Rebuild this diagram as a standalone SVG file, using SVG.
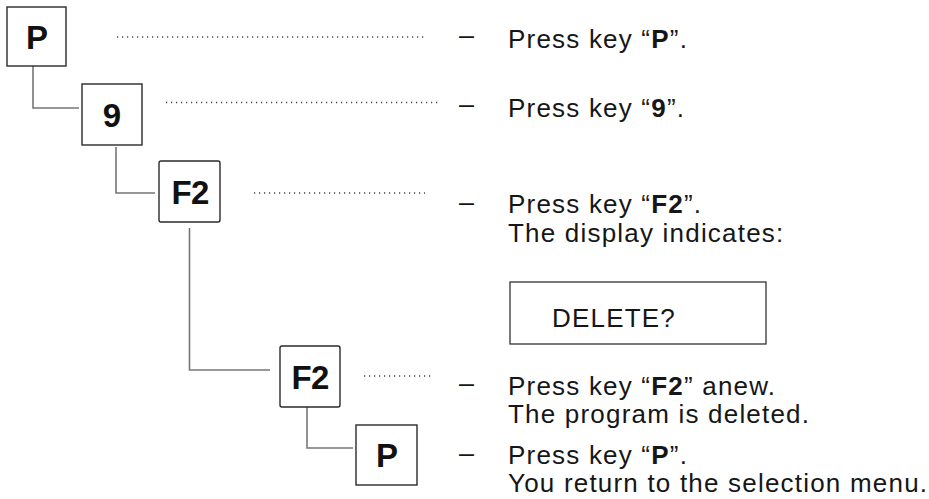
<svg xmlns="http://www.w3.org/2000/svg" width="929" height="499" viewBox="0 0 929 499">
<style>
.key{fill:#fff;stroke:#2a2a2a;stroke-width:1.4}
.kl{font-family:"Liberation Sans",Arial,sans-serif;font-weight:bold;font-size:33px;fill:#111;text-anchor:middle}
.conn{fill:none;stroke:#777;stroke-width:1.6}
.dot{fill:none;stroke:#444;stroke-width:1.3;stroke-dasharray:1.2 3.8}
.t{font-family:"Liberation Sans",Arial,sans-serif;font-size:26px;letter-spacing:1.2px;fill:#161616}
.b{font-weight:bold}
.dash{font-family:"Liberation Sans",Arial,sans-serif;font-size:27px;fill:#161616}
</style>
<rect width="929" height="499" fill="#fff"/>
<g id="connectors">
<path class="conn" d="M33,66 V108 H79"/>
<path class="conn" d="M116,147 V193 H155"/>
<path class="conn" d="M189.5,228 V370 H270"/>
<path class="conn" d="M307,407 V448 H353"/>
<path class="dot" d="M117,37 H427"/>
<path class="dot" d="M166,102.5 H440"/>
<path class="dot" d="M254,193 H425"/>
<path class="dot" d="M364,376 H432"/>
</g>
<g id="key-p1"><rect class="key" x="7" y="7" width="59" height="59"/><text class="kl" x="37" y="48.5">P</text></g>
<g id="key-9"><rect class="key" x="82" y="84" width="60" height="61"/><text class="kl" x="112" y="127">9</text></g>
<g id="key-f2a"><rect class="key" x="159" y="161" width="61" height="61" rx="2"/><text class="kl" x="190" y="204" letter-spacing="-0.8">F2</text></g>
<g id="key-f2b"><rect class="key" x="280" y="346" width="60" height="61" rx="2"/><text class="kl" x="310" y="389" letter-spacing="-0.8">F2</text></g>
<g id="key-p2"><rect class="key" x="356" y="425" width="61" height="60"/><text class="kl" x="387" y="467">P</text></g>
<g id="step1"><text class="dash" x="459" y="44">–</text><text class="t" x="508" y="48">Press key “<tspan class="b">P</tspan>”.</text></g>
<g id="step2"><text class="dash" x="459" y="113">–</text><text class="t" x="508" y="117">Press key “<tspan class="b">9</tspan>”.</text></g>
<g id="step3"><text class="dash" x="459" y="211">–</text><text class="t" x="508" y="213">Press key “<tspan class="b">F2</tspan>”.</text><text class="t" x="508" y="242">The display indicates:</text></g>
<g id="display"><rect x="510" y="282" width="256" height="62" fill="#fff" stroke="#333" stroke-width="1.3"/><text class="t" x="552" y="327">DELETE?</text></g>
<g id="step4"><text class="dash" x="459" y="392">–</text><text class="t" x="508" y="395">Press key “<tspan class="b">F2</tspan>” anew.</text><text class="t" x="508" y="423">The program is deleted.</text></g>
<g id="step5"><text class="dash" x="459" y="462">–</text><text class="t" x="508" y="464">Press key “<tspan class="b">P</tspan>”.</text><text class="t" x="508" y="492">You return to the selection menu.</text></g>
</svg>
